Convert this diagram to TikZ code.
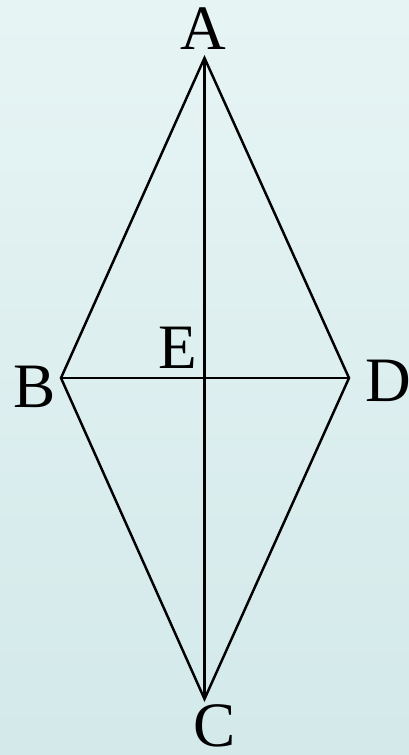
\documentclass[tikz,border=0pt]{standalone}
\usepackage{fontspec}
\setmainfont{Liberation Serif}
\usepackage{xcolor}
\definecolor{bgtop}{HTML}{E7F4F4}
\definecolor{bgbottom}{HTML}{D3E9EA}
\tikzset{
  vlabel/.style={anchor=base, inner sep=0pt, text depth=0pt, font=\fontsize{36}{40}\selectfont},
  edge/.style={line width=1.4pt, line join=miter}
}
\begin{document}
\begin{tikzpicture}
    % background
    \shade[top color=bgtop, bottom color=bgbottom] (0,0) rectangle (8.18,15.10);
    \useasboundingbox (0,0) rectangle (8.18,15.10);

    \coordinate (A) at (4.09,13.94);
    \coordinate (B) at (1.22,7.54);
    \coordinate (D) at (6.98,7.54);
    \coordinate (C) at (4.09,1.12);
    \coordinate (E) at (4.09,7.54);

    \draw[edge] (A) -- (B) -- (C) -- (D) -- cycle;
    \draw[edge] (A) -- (C);
    \draw[edge] (B) -- (D);

    \node[vlabel] (labA) at (4.06,14.10) {A};
    \node[vlabel] (labB) at (0.70,6.94) {B};
    \node[vlabel] (labD) at (7.76,7.06) {D};
    \node[vlabel] (labC) at (4.30,0.18) {C};
    \node[vlabel] (labE) at (3.56,7.72) {E};
  \end{tikzpicture}
\end{document}
